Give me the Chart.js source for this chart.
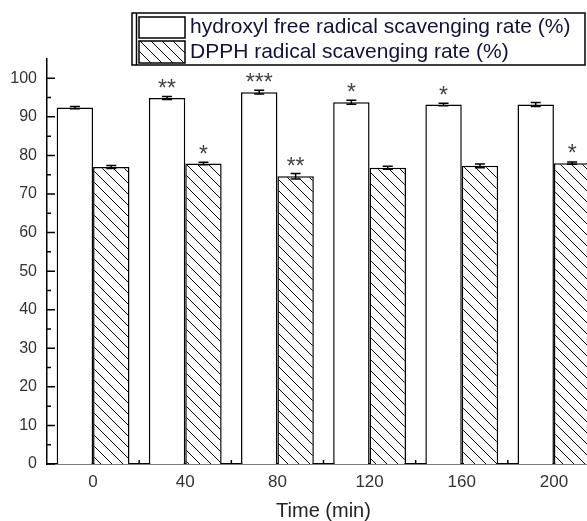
<!DOCTYPE html>
<html>
<head>
<meta charset="utf-8">
<script src="https://cdn.jsdelivr.net/npm/chart.js@4.4.0/dist/chart.umd.min.js"></script>
<style>
  html, body { margin: 0; padding: 0; background: #fff; overflow: hidden; }
  canvas { display: block; }
</style>
</head>
<body>
<canvas id="myChart" width="600" height="521"></canvas>
<script>
// Data
var timeLabels = ["0", "40", "80", "120", "160", "200"];
var hydroxylRate = [92.4, 94.9, 96.4, 93.8, 93.2, 93.2];
var hydroxylErr = [0.3, 0.4, 0.5, 0.5, 0.3, 0.5];
var hydroxylStars = ["", "**", "***", "*", "*", ""];
var dpphRate = [77.0, 77.9, 74.6, 76.8, 77.3, 78.0];
var dpphErr = [0.4, 0.3, 0.7, 0.4, 0.5, 0.3];
var dpphStars = ["", "*", "**", "", "", "*"];
var yTicks = [0, 10, 20, 30, 40, 50, 60, 70, 80, 90, 100];
var yMinorTicks = [5, 15, 25, 35, 45, 55, 65, 75, 85, 95];

var FONT = "'Liberation Sans', Arial, sans-serif";
Chart.defaults.font.family = FONT;

var ctx = document.getElementById("myChart").getContext("2d");

// diagonal hatch, lines going top-left to bottom-right
var makeHatch = () => {
    var c = document.createElement("canvas");
    c.width = 11; c.height = 11;
    var g = c.getContext("2d");
    g.fillStyle = "#fff";
    g.fillRect(0, 0, 11, 11);
    g.strokeStyle = "#000";
    g.lineWidth = 1;
    g.beginPath();
    [-11, 0, 11].forEach(function(dx) {
        g.moveTo(dx - 1, -1);
        g.lineTo(dx + 12, 12);
    });
    g.stroke();
    return ctx.createPattern(c, "repeat");
};
var hatch = makeHatch();

// error bars + significance stars
var errorBarPlugin = {
    id: "errorBars",
    afterDatasetsDraw: function(chart) {
        var c = chart.ctx, y = chart.scales.y;
        c.save();
        chart.data.datasets.forEach(function(ds, i) {
            var meta = chart.getDatasetMeta(i);
            meta.data.forEach(function(bar, j) {
                var v = ds.data[j], e = ds.errors[j];
                var top = y.getPixelForValue(v + e);
                var bot = y.getPixelForValue(v - e);
                c.strokeStyle = "#000";
                c.lineWidth = 1.5;
                c.beginPath();
                c.moveTo(bar.x, top); c.lineTo(bar.x, bot);
                c.moveTo(bar.x - 5, top); c.lineTo(bar.x + 5, top);
                c.moveTo(bar.x - 5, bot); c.lineTo(bar.x + 5, bot);
                c.stroke();
                if (ds.stars[j]) {
                    c.fillStyle = "#444";
                    c.font = "23px " + FONT;
                    c.textAlign = "center";
                    c.textBaseline = "alphabetic";
                    c.fillText(ds.stars[j], bar.x, y.getPixelForValue(v) - 2);
                }
            });
        });
        c.restore();
    }
};

// inward tick marks
var tickPlugin = {
    id: "inTicks",
    afterDraw: function(chart) {
        var c = chart.ctx, x = chart.scales.x, y = chart.scales.y;
        var area = chart.chartArea;
        c.save();
        c.strokeStyle = "#000";
        c.lineWidth = 1.5;
        c.beginPath();
        yTicks.forEach(function(v) {
            var py = y.getPixelForValue(v);
            c.moveTo(area.left, py); c.lineTo(area.left + 8, py);
        });
        yMinorTicks.forEach(function(v) {
            var py = y.getPixelForValue(v);
            c.moveTo(area.left, py); c.lineTo(area.left + 4, py);
        });
        for (var i = 0; i < timeLabels.length - 1; i++) {
            var px = (x.getPixelForTick(i) + x.getPixelForTick(i + 1)) / 2;
            c.moveTo(px, area.bottom); c.lineTo(px, area.bottom - 4);
        }
        c.stroke();
        c.restore();
    }
};

// boxed legend at the top right
var legendPlugin = {
    id: "boxLegend",
    afterDraw: function(chart) {
        var c = chart.ctx;
        var ds = chart.data.datasets;
        c.save();
        c.strokeStyle = "#000";
        c.lineWidth = 1.5;
        c.fillStyle = "#fff";
        c.fillRect(132, 13, 453, 52);
        c.strokeRect(132, 13, 453, 52);
        c.beginPath();
        c.moveTo(136.5, 13); c.lineTo(136.5, 65);
        c.stroke();
        var rows = [{ y: 17, h: 21, cy: 27 }, { y: 41, h: 22, cy: 52 }];
        ds.forEach(function(d, i) {
            var r = rows[i];
            c.fillStyle = d.backgroundColor;
            c.fillRect(139, r.y, 46, r.h);
            c.strokeRect(139, r.y, 46, r.h);
            c.fillStyle = "#11113a";
            c.font = "21px " + FONT;
            c.textAlign = "left";
            c.textBaseline = "middle";
            c.fillText(d.label, 190, r.cy);
        });
        c.restore();
    }
};

new Chart(ctx, {
    type: "bar",
    data: {
        labels: timeLabels,
        datasets: [
            {
                label: "hydroxyl free radical scavenging rate (%)",
                data: hydroxylRate,
                errors: hydroxylErr,
                stars: hydroxylStars,
                backgroundColor: "#fff",
                borderColor: "#000",
                borderWidth: 1.5
            },
            {
                label: "DPPH radical scavenging rate (%)",
                data: dpphRate,
                errors: dpphErr,
                stars: dpphStars,
                backgroundColor: hatch,
                borderColor: "#000",
                borderWidth: 1.5
            }
        ]
    },
    options: {
        responsive: false,
        animation: false,
        devicePixelRatio: 1,
        categoryPercentage: 0.79,
        barPercentage: 1,
        layout: { padding: { top: 59, left: 0, right: 0, bottom: 0 } },
        plugins: {
            legend: { display: false },
            tooltip: { enabled: false }
        },
        scales: {
            x: {
                offset: true,
                z: 1,
                grid: { display: false, drawTicks: false },
                border: { display: true, color: "#000", width: 1.5 },
                ticks: { color: "#333", font: { size: 17 }, padding: 8 },
                title: {
                    display: true,
                    text: "Time (min)",
                    color: "#222",
                    font: { size: 20 },
                    padding: -2
                },
                afterFit: function(scale) { scale.height = 57; }
            },
            y: {
                min: 0,
                max: 105,
                z: 1,
                grid: { display: false, drawTicks: false },
                border: { display: true, color: "#000", width: 1.5 },
                ticks: { color: "#333", font: { size: 16 }, padding: 10 },
                afterBuildTicks: function(scale) {
                    scale.ticks = yTicks.map(function(v) { return { value: v }; });
                },
                afterFit: function(scale) { scale.width = 47; }
            }
        }
    },
    plugins: [errorBarPlugin, tickPlugin, legendPlugin]
});
</script>
</body>
</html>
